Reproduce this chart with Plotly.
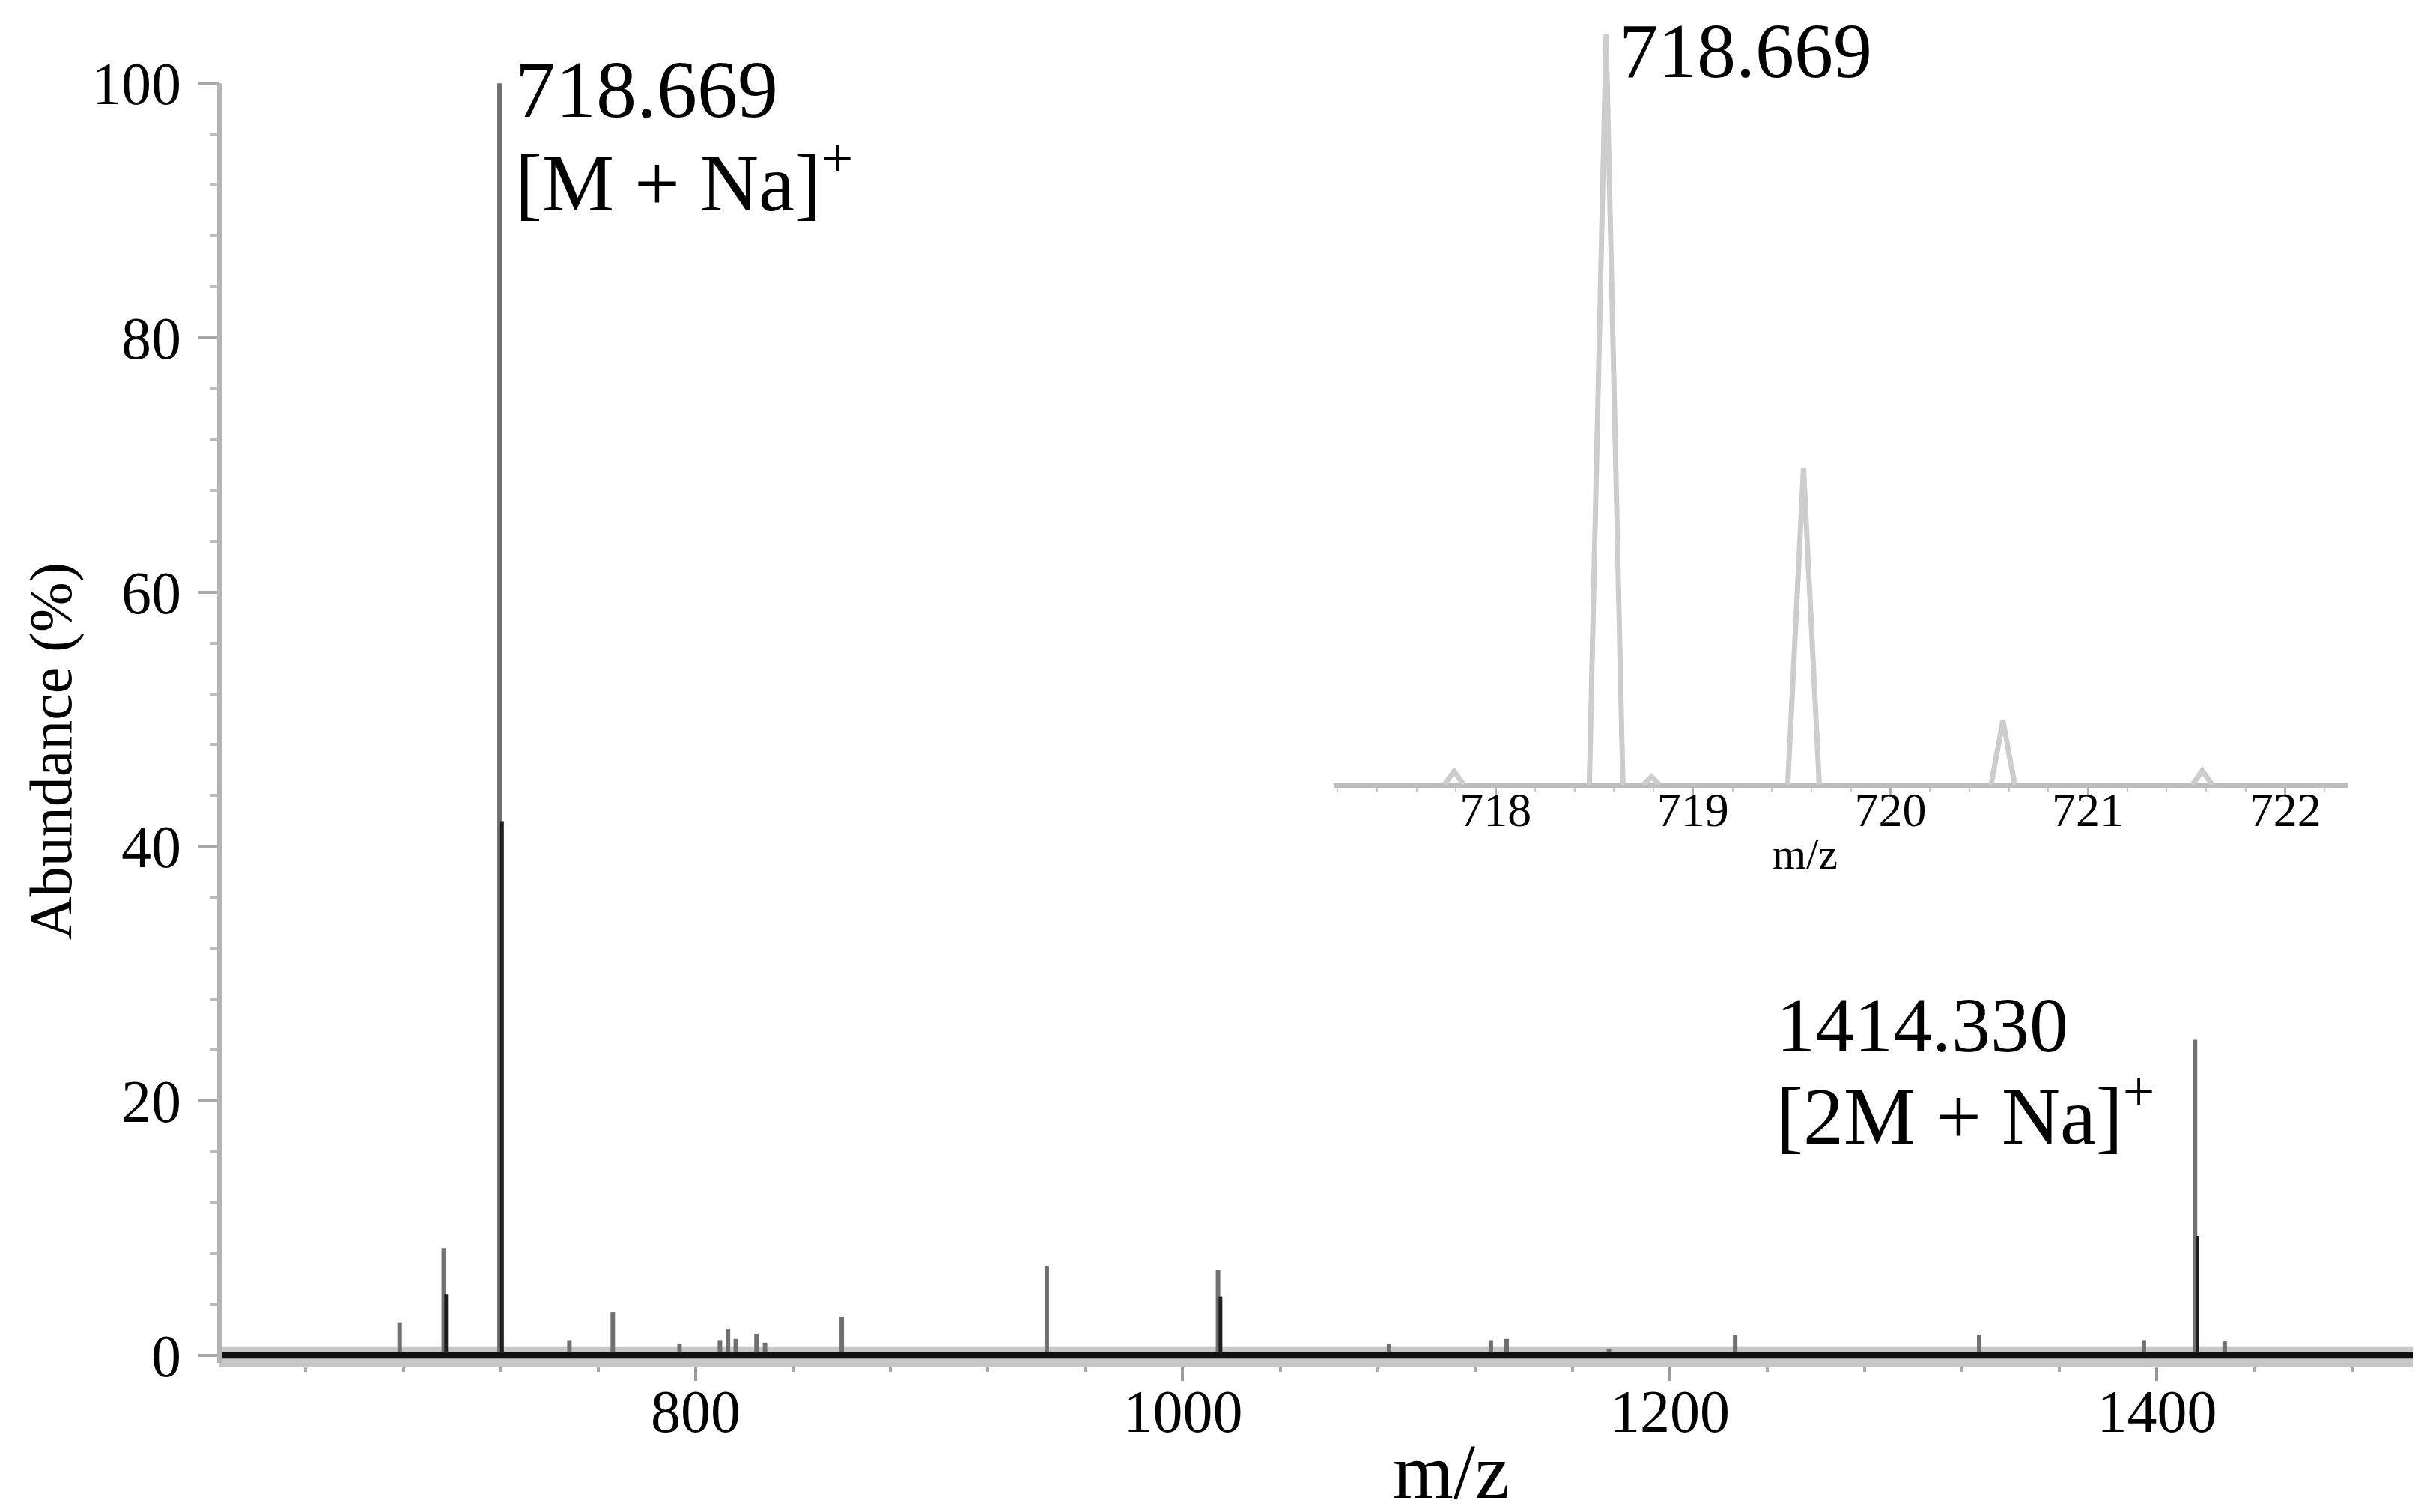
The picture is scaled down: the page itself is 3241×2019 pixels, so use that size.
import plotly.graph_objects as go

# ---------------- data ----------------
# main spectrum: principal peaks (m/z, relative abundance %)
main_mz = [678.5, 696.6, 719.5, 748.2, 766.0, 793.4, 810.0, 813.3, 816.5,
           825.0, 828.5, 860.0, 944.2, 1014.5, 1084.7, 1126.5, 1133.0,
           1175.0, 1226.8, 1327.0, 1394.6, 1415.6, 1427.8]
main_ab = [2.6, 8.4, 100.0, 1.2, 3.4, 0.9, 1.2, 2.1, 1.3,
           1.7, 1.0, 3.0, 7.0, 6.7, 0.9, 1.2, 1.3,
           0.5, 1.6, 1.6, 1.2, 24.8, 1.1]
# isotope peaks that overlap the principal ones (drawn darker)
iso_mz = [697.6, 720.5, 1015.5, 1416.6]
iso_ab = [4.8, 42.0, 4.6, 9.4]
main_range = [604.5, 1505.0]

# inset: isotope pattern of [M + Na]+
inset_mz = [717.79, 718.56, 718.79, 719.56, 720.57, 721.58]
inset_ab = [1.8, 100.0, 1.1, 42.2, 8.6, 1.9]
inset_hw = [0.05, 0.085, 0.04, 0.08, 0.06, 0.05]   # half width of peak foot
inset_range = [717.18, 722.32]

x_ticks = [800, 1000, 1200, 1400]
y_ticks = [0, 20, 40, 60, 80, 100]
inset_ticks = [718, 719, 720, 721, 722]

# ---------------- geometry ----------------
W, H = 3241, 2019
L, R, T, B = 285, 27, 20, 207
PW, PH = W - L - R, H - T - B
def px(x):
    return (x - L) / PW
def py(y):
    return (H - B - y) / PH

FONT = "Liberation Serif"

def sticks(mz, ab):
    xs, ys = [], []
    for m, a in zip(mz, ab):
        xs += [m, m, None]
        ys += [0, a, None]
    return xs, ys

def tri(mz, ab, hw):
    xs, ys = [], []
    for m, a, w in zip(mz, ab, hw):
        xs += [m - w, m, m + w, None]
        ys += [0, a, 0, None]
    return xs, ys

fig = go.Figure()

# baseline halo + baseline
fig.add_trace(go.Scatter(x=main_range, y=[0, 0], mode="lines",
                         line=dict(color="#c8c8c8", width=22),
                         hoverinfo="skip", showlegend=False))
sx, sy = sticks(main_mz, main_ab)
fig.add_trace(go.Scatter(x=sx, y=sy, mode="lines",
                         line=dict(color="#707070", width=6),
                         showlegend=False))
ix, iy = sticks(iso_mz, iso_ab)
fig.add_trace(go.Scatter(x=ix, y=iy, mode="lines",
                         line=dict(color="#1e1e1e", width=5),
                         showlegend=False))
fig.add_trace(go.Scatter(x=main_range, y=[0, 0], mode="lines",
                         line=dict(color="#111111", width=9),
                         hoverinfo="skip", showlegend=False))

# inset
tx, ty = tri(inset_mz, inset_ab, inset_hw)
fig.add_trace(go.Scatter(x=inset_range, y=[0, 0], mode="lines",
                         line=dict(color="#bdbdbd", width=5),
                         xaxis="x2", yaxis="y2", showlegend=False))
fig.add_trace(go.Scatter(x=tx, y=ty, mode="lines",
                         line=dict(color="#cdcdcd", width=7),
                         xaxis="x2", yaxis="y2", showlegend=False))

# main y axis line (only up to 100)
fig.add_shape(type="line", xref="paper", yref="y", x0=0, x1=0, y0=-0.6, y1=100,
              line=dict(color="#b4b4b4", width=6))

minor_y = [v for v in range(0, 101, 4) if v % 20 != 0]

fig.update_layout(
    width=W, height=H,
    margin=dict(l=L, r=R, t=T, b=B),
    paper_bgcolor="white", plot_bgcolor="rgba(0,0,0,0)",
    font=dict(family=FONT, color="black"),
    xaxis=dict(domain=[0, 1], range=main_range, tickvals=x_ticks,
               ticks="outside", ticklen=18, tickwidth=4, tickcolor="#9a9a9a",
               showline=True, linecolor="#c4c4c4", linewidth=6,
               showgrid=False, zeroline=False,
               tickfont=dict(family=FONT, size=80, color="black"),
               ticklabelstandoff=-28,
               minor=dict(dtick=40, tick0=0, ticks="outside", ticklen=6,
                          tickwidth=4, tickcolor="#a8a8a8", showgrid=False)),
    yaxis=dict(domain=[0, 1], range=[-0.6, 104.9], tickvals=y_ticks,
               ticks="outside", ticklen=28, tickwidth=4, tickcolor="#a8a8a8",
               showline=False, showgrid=False, zeroline=False,
               tickfont=dict(family=FONT, size=80, color="black"),
               ticklabelstandoff=6,
               minor=dict(tickmode="array", tickvals=minor_y, ticks="outside",
                          ticklen=12, tickwidth=4, tickcolor="#bdbdbd",
                          showgrid=False)),
    xaxis2=dict(domain=[px(1773), px(3128)], range=inset_range, anchor="y2",
                tickvals=inset_ticks, ticks="outside", ticklen=12, tickwidth=3,
                tickcolor="#b0b0b0", showline=True, linecolor="#bdbdbd",
                linewidth=4, showgrid=False, zeroline=False,
                tickfont=dict(family=FONT, size=64, color="black"),
                ticklabelstandoff=-38,
                minor=dict(dtick=0.2, ticks="outside", ticklen=5, tickwidth=2,
                           tickcolor="#c4c4c4", showgrid=False)),
    yaxis2=dict(domain=[py(1040), py(28)], range=[0, 101], anchor="x2",
                visible=False),
)

ann = [
    dict(text="718.669", x=px(678), y=py(112), size=108, anchor="middle"),
    dict(text="[M + Na]<sup>+</sup>", x=px(678), y=py(228), size=108, anchor="middle"),
    dict(text="1414.330", x=px(2362), y=py(1360), size=104, anchor="middle"),
    dict(text="[2M + Na]<sup>+</sup>", x=px(2362), y=py(1474), size=108, anchor="middle"),
    dict(text="718.669", x=px(2152), y=py(0), size=104, anchor="top"),
]
for a in ann:
    fig.add_annotation(text=a["text"], x=a["x"], y=a["y"], xref="paper",
                       yref="paper", xanchor="left", yanchor=a["anchor"],
                       showarrow=False,
                       font=dict(family=FONT, size=a["size"], color="black"))

fig.add_annotation(text="m/z", x=px(1930), y=py(1956), xref="paper",
                   yref="paper", xanchor="center", yanchor="middle",
                   showarrow=False, font=dict(family=FONT, size=104))
fig.add_annotation(text="m/z", x=px(2402), y=py(1132), xref="paper",
                   yref="paper", xanchor="center", yanchor="middle",
                   showarrow=False, font=dict(family=FONT, size=58))
fig.add_annotation(text="Abundance (%)", x=px(60), y=py(995), xref="paper",
                   yref="paper", xanchor="center", yanchor="middle",
                   textangle=-90, showarrow=False,
                   font=dict(family=FONT, size=80))

fig.write_html("out.html")
